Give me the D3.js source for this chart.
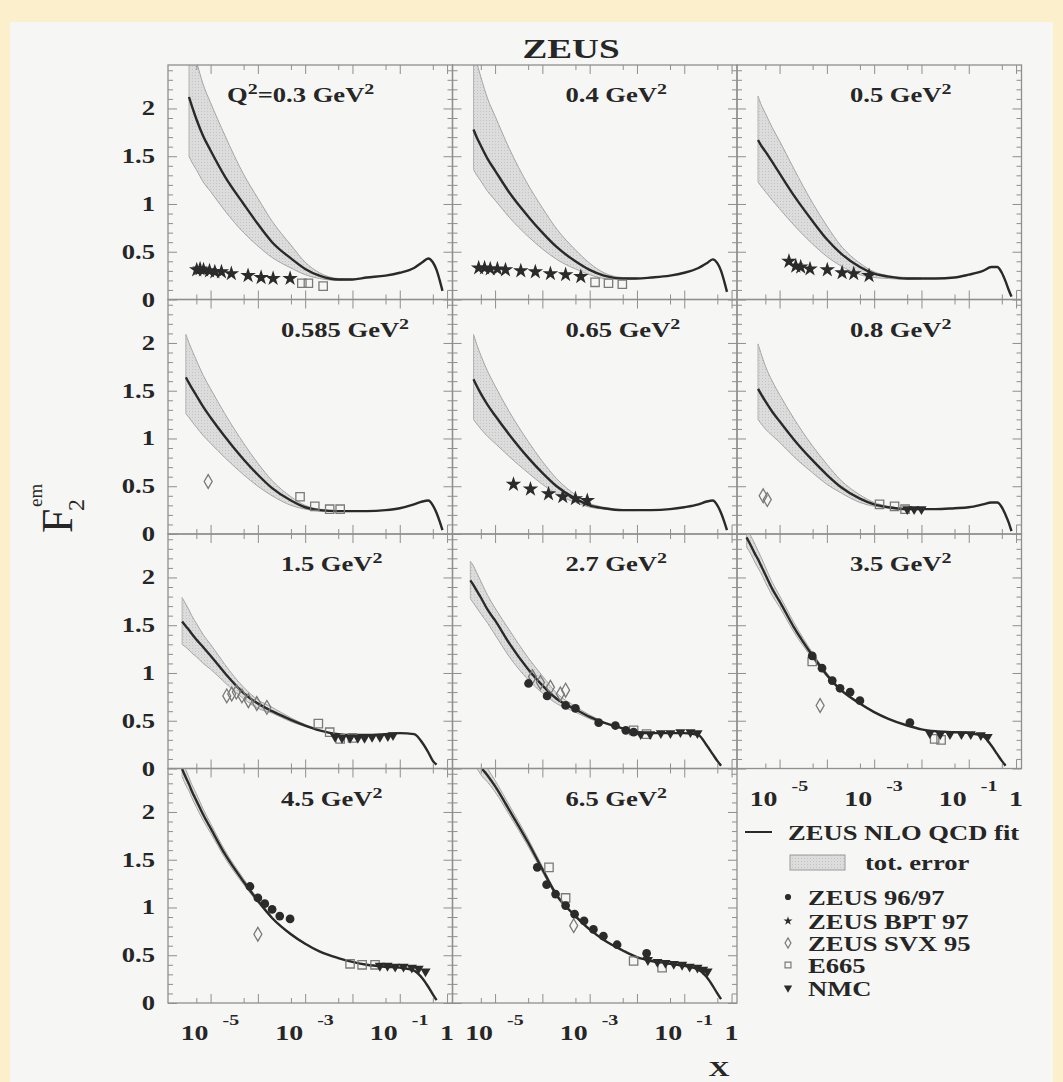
<!DOCTYPE html>
<html><head><meta charset="utf-8">
<script src="https://cdn.jsdelivr.net/npm/d3@7"></script>
<style>html,body{margin:0;padding:0;background:#fcf0cc}svg{display:block}</style>
</head><body>
<svg id="chart" width="1063" height="1082"></svg>
<script>
// ---------------- DATA ----------------
const q2Values = ["0.3","0.4","0.5","0.585","0.65","0.8","1.5","2.7","3.5","4.5","6.5"];
const xMajorTicks = [1e-5,1e-4,1e-3,1e-2,1e-1,1];
const xMinorTicks = [5e-6,5e-5,5e-4,5e-3,5e-2,5e-1];
const xLabelTicks = [1e-5,1e-3,1e-1,1];
const xLabelExps = ["-5","-3","-1",""];
const yTickValues = [0,0.5,1,1.5,2];
const yTickLabels = ["0","0.5","1","1.5","2"];
const legendLabels = ["ZEUS 96/97","ZEUS BPT 97","ZEUS SVX 95","E665","NMC"];

const fitCurves = [
 [[3.5e-6,2.12],[4e-6,2.03],[5e-6,1.89],[7e-6,1.71],[1e-5,1.56],[2e-5,1.29],[5e-5,1.00],[1e-4,0.79],[2e-4,0.60],[5e-4,0.43],[1e-3,0.32],[2e-3,0.25],[5e-3,0.21],[1e-2,0.21],[2e-2,0.23],[5e-2,0.25],[0.1,0.28],[0.2,0.33],[0.3,0.39],[0.4,0.43],[0.5,0.39],[0.6,0.31],[0.7,0.20],[0.8,0.09]],
 [[3.5e-6,1.78],[4e-6,1.71],[5e-6,1.61],[7e-6,1.47],[1e-5,1.35],[2e-5,1.12],[5e-5,0.87],[1e-4,0.70],[2e-4,0.55],[5e-4,0.40],[1e-3,0.31],[2e-3,0.25],[5e-3,0.22],[1e-2,0.22],[2e-2,0.23],[5e-2,0.25],[0.1,0.28],[0.2,0.33],[0.3,0.38],[0.4,0.42],[0.5,0.38],[0.6,0.30],[0.7,0.19],[0.8,0.08]],
 [[3.5e-6,1.67],[4e-6,1.62],[5e-6,1.55],[7e-6,1.44],[1e-5,1.32],[2e-5,1.09],[5e-5,0.82],[1e-4,0.63],[2e-4,0.48],[5e-4,0.34],[1e-3,0.27],[2e-3,0.24],[5e-3,0.22],[1e-2,0.22],[2e-2,0.22],[5e-2,0.23],[0.1,0.26],[0.2,0.30],[0.3,0.34],[0.4,0.34],[0.5,0.28],[0.6,0.19],[0.7,0.10],[0.8,0.03]],
 [[3e-6,1.64],[3.5e-6,1.58],[4e-6,1.53],[5e-6,1.45],[7e-6,1.33],[1e-5,1.22],[2e-5,1.02],[5e-5,0.78],[1e-4,0.62],[2e-4,0.48],[5e-4,0.35],[1e-3,0.28],[2e-3,0.25],[5e-3,0.24],[1e-2,0.24],[2e-2,0.24],[5e-2,0.25],[0.1,0.27],[0.2,0.31],[0.3,0.34],[0.4,0.35],[0.5,0.30],[0.6,0.22],[0.7,0.13],[0.8,0.04]],
 [[3.5e-6,1.62],[4e-6,1.56],[5e-6,1.47],[7e-6,1.35],[1e-5,1.24],[2e-5,1.04],[5e-5,0.80],[1e-4,0.64],[2e-4,0.50],[5e-4,0.37],[1e-3,0.30],[2e-3,0.27],[5e-3,0.25],[1e-2,0.25],[2e-2,0.25],[5e-2,0.26],[0.1,0.28],[0.2,0.31],[0.3,0.34],[0.4,0.35],[0.5,0.30],[0.6,0.22],[0.7,0.13],[0.8,0.04]],
 [[3.5e-6,1.52],[4e-6,1.47],[5e-6,1.39],[7e-6,1.28],[1e-5,1.18],[2e-5,0.99],[5e-5,0.77],[1e-4,0.62],[2e-4,0.49],[5e-4,0.37],[1e-3,0.31],[2e-3,0.28],[5e-3,0.26],[1e-2,0.26],[2e-2,0.26],[5e-2,0.27],[0.1,0.28],[0.2,0.31],[0.3,0.33],[0.4,0.33],[0.5,0.28],[0.6,0.20],[0.7,0.12],[0.8,0.03]],
 [[2.5e-6,1.54],[3e-6,1.49],[3.5e-6,1.45],[4e-6,1.41],[5e-6,1.35],[7e-6,1.27],[1e-5,1.18],[2e-5,1.00],[5e-5,0.79],[1e-4,0.68],[2e-4,0.60],[5e-4,0.51],[1e-3,0.45],[2e-3,0.40],[5e-3,0.36],[1e-2,0.35],[2e-2,0.35],[5e-2,0.36],[0.1,0.37],[0.2,0.36],[0.3,0.27],[0.4,0.17],[0.5,0.08],[0.6,0.04]],
 [[3e-6,1.97],[3.5e-6,1.92],[4e-6,1.87],[5e-6,1.79],[7e-6,1.66],[1e-5,1.55],[2e-5,1.31],[5e-5,1.04],[1e-4,0.87],[2e-4,0.73],[5e-4,0.62],[1e-3,0.54],[2e-3,0.48],[5e-3,0.42],[1e-2,0.38],[2e-2,0.37],[5e-2,0.37],[0.1,0.37],[0.2,0.35],[0.3,0.24],[0.4,0.15],[0.5,0.08],[0.6,0.03]],
 [[2e-6,2.42],[2.5e-6,2.33],[3e-6,2.25],[3.5e-6,2.19],[4e-6,2.13],[5e-6,2.03],[7e-6,1.88],[1e-5,1.75],[2e-5,1.48],[5e-5,1.18],[1e-4,0.98],[2e-4,0.82],[5e-4,0.68],[1e-3,0.59],[2e-3,0.52],[5e-3,0.45],[1e-2,0.41],[2e-2,0.39],[5e-2,0.38],[0.1,0.37],[0.2,0.34],[0.3,0.24],[0.4,0.15],[0.5,0.08],[0.6,0.03]],
 [[2.5e-6,2.45],[3e-6,2.36],[3.5e-6,2.29],[4e-6,2.22],[5e-6,2.12],[7e-6,1.97],[1e-5,1.83],[2e-5,1.56],[5e-5,1.27],[1e-4,1.07],[2e-4,0.89],[5e-4,0.72],[1e-3,0.62],[2e-3,0.54],[5e-3,0.47],[1e-2,0.43],[2e-2,0.40],[5e-2,0.38],[0.1,0.37],[0.2,0.34],[0.3,0.26],[0.4,0.17],[0.5,0.09],[0.6,0.03]],
 [[4e-6,2.55],[5e-6,2.47],[7e-6,2.38],[1e-5,2.27],[2e-5,2.02],[5e-5,1.68],[1e-4,1.40],[2e-4,1.13],[5e-4,0.91],[1e-3,0.77],[2e-3,0.66],[5e-3,0.55],[1e-2,0.48],[2e-2,0.44],[5e-2,0.41],[0.1,0.39],[0.2,0.35],[0.3,0.27],[0.4,0.18],[0.5,0.10],[0.6,0.04]]
];

const bandUpper = [
 [[3.5e-6,2.80],[4e-6,2.68],[5e-6,2.50],[7e-6,2.25],[1e-5,2.06],[2e-5,1.72],[5e-5,1.31],[1e-4,1.06],[2e-4,0.82],[5e-4,0.57],[1e-3,0.39],[2e-3,0.28],[5e-3,0.22],[1e-2,0.215]],
 [[3.5e-6,2.60],[4e-6,2.50],[5e-6,2.33],[7e-6,2.10],[1e-5,1.92],[2e-5,1.58],[5e-5,1.20],[1e-4,0.96],[2e-4,0.74],[5e-4,0.52],[1e-3,0.38],[2e-3,0.28],[5e-3,0.23],[1e-2,0.225]],
 [[3.5e-6,2.13],[4e-6,2.05],[5e-6,1.95],[7e-6,1.80],[1e-5,1.66],[2e-5,1.37],[5e-5,1.01],[1e-4,0.77],[2e-4,0.56],[5e-4,0.38],[1e-3,0.29],[2e-3,0.25],[5e-3,0.23],[1e-2,0.225]],
 [[3e-6,2.09],[3.5e-6,2.00],[4e-6,1.93],[5e-6,1.82],[7e-6,1.66],[1e-5,1.52],[2e-5,1.26],[5e-5,0.95],[1e-4,0.74],[2e-4,0.56],[5e-4,0.39],[1e-3,0.30],[2e-3,0.26],[5e-3,0.245],[1e-2,0.245]],
 [[3.5e-6,2.09],[4e-6,2.00],[5e-6,1.87],[7e-6,1.70],[1e-5,1.55],[2e-5,1.28],[5e-5,0.97],[1e-4,0.76],[2e-4,0.58],[5e-4,0.41],[1e-3,0.32],[2e-3,0.28],[5e-3,0.255],[1e-2,0.255]],
 [[3.5e-6,1.99],[4e-6,1.90],[5e-6,1.76],[7e-6,1.60],[1e-5,1.46],[2e-5,1.21],[5e-5,0.92],[1e-4,0.73],[2e-4,0.56],[5e-4,0.41],[1e-3,0.33],[2e-3,0.29],[5e-3,0.265],[1e-2,0.265]],
 [[2.5e-6,1.79],[3e-6,1.72],[3.5e-6,1.66],[4e-6,1.60],[5e-6,1.52],[7e-6,1.40],[1e-5,1.30],[2e-5,1.09],[5e-5,0.85],[1e-4,0.72],[2e-4,0.64],[5e-4,0.53],[1e-3,0.46],[2e-3,0.405]],
 [[3e-6,2.17],[3.5e-6,2.12],[4e-6,2.06],[5e-6,1.96],[7e-6,1.81],[1e-5,1.68],[2e-5,1.45],[5e-5,1.16],[1e-4,0.97],[2e-4,0.79],[5e-4,0.65],[1e-3,0.56],[2e-3,0.49]],
 [[2e-6,2.52],[2.5e-6,2.43],[3e-6,2.35],[3.5e-6,2.28],[4e-6,2.22],[5e-6,2.11],[7e-6,1.95],[1e-5,1.81],[2e-5,1.53],[5e-5,1.21],[1e-4,1.00],[2e-4,0.83],[5e-4,0.69],[1e-3,0.595]],
 [[2.5e-6,2.53],[3e-6,2.44],[3.5e-6,2.36],[4e-6,2.29],[5e-6,2.19],[7e-6,2.03],[1e-5,1.88],[2e-5,1.60],[5e-5,1.30],[1e-4,1.09],[2e-4,0.90],[5e-4,0.73],[1e-3,0.625]],
 [[4e-6,2.63],[5e-6,2.55],[7e-6,2.45],[1e-5,2.33],[2e-5,2.07],[5e-5,1.72],[1e-4,1.43],[2e-4,1.15],[5e-4,0.92],[1e-3,0.775]]
];
const bandLower = [
 [[3.5e-6,1.50],[4e-6,1.44],[5e-6,1.36],[7e-6,1.23],[1e-5,1.13],[2e-5,0.93],[5e-5,0.70],[1e-4,0.56],[2e-4,0.44],[5e-4,0.33],[1e-3,0.26],[2e-3,0.22],[5e-3,0.20],[1e-2,0.205]],
 [[3.5e-6,1.36],[4e-6,1.31],[5e-6,1.24],[7e-6,1.13],[1e-5,1.04],[2e-5,0.86],[5e-5,0.66],[1e-4,0.53],[2e-4,0.42],[5e-4,0.32],[1e-3,0.26],[2e-3,0.22],[5e-3,0.21],[1e-2,0.215]],
 [[3.5e-6,1.23],[4e-6,1.19],[5e-6,1.13],[7e-6,1.04],[1e-5,0.95],[2e-5,0.78],[5e-5,0.58],[1e-4,0.45],[2e-4,0.35],[5e-4,0.26],[1e-3,0.23],[2e-3,0.22],[5e-3,0.21],[1e-2,0.215]],
 [[3e-6,1.26],[3.5e-6,1.22],[4e-6,1.18],[5e-6,1.12],[7e-6,1.03],[1e-5,0.95],[2e-5,0.80],[5e-5,0.62],[1e-4,0.50],[2e-4,0.40],[5e-4,0.30],[1e-3,0.26],[2e-3,0.24],[5e-3,0.235],[1e-2,0.235]],
 [[3.5e-6,1.20],[4e-6,1.16],[5e-6,1.10],[7e-6,1.02],[1e-5,0.95],[2e-5,0.81],[5e-5,0.64],[1e-4,0.52],[2e-4,0.42],[5e-4,0.33],[1e-3,0.28],[2e-3,0.26],[5e-3,0.245],[1e-2,0.245]],
 [[3.5e-6,1.20],[4e-6,1.16],[5e-6,1.10],[7e-6,1.03],[1e-5,0.96],[2e-5,0.81],[5e-5,0.64],[1e-4,0.52],[2e-4,0.43],[5e-4,0.33],[1e-3,0.29],[2e-3,0.27],[5e-3,0.255],[1e-2,0.255]],
 [[2.5e-6,1.30],[3e-6,1.27],[3.5e-6,1.24],[4e-6,1.21],[5e-6,1.17],[7e-6,1.10],[1e-5,1.04],[2e-5,0.90],[5e-5,0.73],[1e-4,0.63],[2e-4,0.58],[5e-4,0.49],[1e-3,0.44],[2e-3,0.395]],
 [[3e-6,1.78],[3.5e-6,1.73],[4e-6,1.69],[5e-6,1.62],[7e-6,1.52],[1e-5,1.40],[2e-5,1.17],[5e-5,0.93],[1e-4,0.79],[2e-4,0.68],[5e-4,0.59],[1e-3,0.52],[2e-3,0.47]],
 [[2e-6,2.32],[2.5e-6,2.24],[3e-6,2.16],[3.5e-6,2.10],[4e-6,2.05],[5e-6,1.95],[7e-6,1.81],[1e-5,1.69],[2e-5,1.43],[5e-5,1.15],[1e-4,0.96],[2e-4,0.81],[5e-4,0.67],[1e-3,0.585]],
 [[2.5e-6,2.37],[3e-6,2.28],[3.5e-6,2.22],[4e-6,2.15],[5e-6,2.05],[7e-6,1.91],[1e-5,1.78],[2e-5,1.52],[5e-5,1.24],[1e-4,1.05],[2e-4,0.88],[5e-4,0.71],[1e-3,0.615]],
 [[4e-6,2.47],[5e-6,2.39],[7e-6,2.31],[1e-5,2.21],[2e-5,1.97],[5e-5,1.64],[1e-4,1.37],[2e-4,1.11],[5e-4,0.90],[1e-3,0.765]]
];

// data points per panel: [x, F2]
const zeus9697 = [[],[],[],[],[],[],[],
 [[5.1e-5,0.89],[1.26e-4,0.76],[3.1e-4,0.66],[5e-4,0.63],[1.55e-3,0.48],[3.5e-3,0.45],[5.8e-3,0.40],[8.5e-3,0.38]],
 [[4.9e-5,1.18],[7.9e-5,1.05],[1.3e-4,0.92],[1.9e-4,0.84],[3.1e-4,0.80],[5e-4,0.71],[5.7e-3,0.48]],
 [[6.8e-5,1.22],[1e-4,1.10],[1.4e-4,1.04],[2e-4,0.98],[2.9e-4,0.91],[4.8e-4,0.88]],
 [[7.8e-5,1.42],[1.23e-4,1.24],[1.9e-4,1.14],[3.1e-4,1.02],[4.8e-4,0.93],[7.6e-4,0.86],[1.2e-3,0.77],[1.95e-3,0.70],[3.8e-3,0.61],[1.6e-2,0.52]]
];
const bpt97 = [
 [[5.1e-6,0.31],[6e-6,0.32],[7.1e-6,0.31],[9.5e-6,0.30],[1.23e-5,0.29],[1.7e-5,0.29],[2.75e-5,0.27],[6.2e-5,0.25],[1.17e-4,0.23],[2.1e-4,0.22],[4.8e-4,0.22]],
 [[4.5e-6,0.33],[6e-6,0.33],[7.9e-6,0.32],[1.12e-5,0.32],[1.66e-5,0.31],[3.5e-5,0.30],[7.1e-5,0.29],[1.48e-4,0.27],[3.1e-4,0.26],[6.5e-4,0.24]],
 [[1.58e-5,0.40],[2.2e-5,0.35],[2.8e-5,0.34],[4.4e-5,0.32],[1.02e-4,0.31],[2.1e-4,0.28],[3.7e-4,0.27],[7.8e-4,0.25]],
 [],
 [[2.45e-5,0.52],[5.6e-5,0.47],[1.35e-4,0.42],[2.7e-4,0.39],[5e-4,0.37],[8.9e-4,0.35]],
 [],[],[],[],[],[]
];
const svx95 = [[],[],[],
 [[8.9e-6,0.55]],
 [],
 [[4.5e-6,0.40],[5.5e-6,0.36]],
 [[2.2e-5,0.76],[2.8e-5,0.78],[3.5e-5,0.80],[4.6e-5,0.76],[6.3e-5,0.71],[9.5e-5,0.68],[1.55e-4,0.64]],
 [[6.2e-5,0.96],[9.1e-5,0.90],[1.48e-4,0.85],[2.4e-4,0.78],[3.1e-4,0.82]],
 [[7.2e-5,0.66]],
 [[1e-4,0.72]],
 [[4.6e-4,0.81]]
];
const e665 = [
 [[8.5e-4,0.17],[1.17e-3,0.17],[2.4e-3,0.14]],
 [[1.3e-3,0.18],[2.5e-3,0.17],[4.9e-3,0.16]],
 [],
 [[7.8e-4,0.39],[1.6e-3,0.29],[3.3e-3,0.26],[5.5e-3,0.26]],
 [],
 [[1.3e-3,0.31],[2.7e-3,0.29],[4.5e-3,0.26]],
 [[1.9e-3,0.47],[3.3e-3,0.38],[5.5e-3,0.31],[1e-2,0.32]],
 [[8.5e-3,0.40],[1.6e-2,0.36]],
 [[4.9e-5,1.12],[1.9e-2,0.31],[2.6e-2,0.30]],
 [[8.9e-3,0.41],[1.6e-2,0.40],[3e-2,0.40]],
 [[1.38e-4,1.42],[3.1e-4,1.10],[8.5e-3,0.44],[3.4e-2,0.37]]
];
const nmc = [[],[],[],[],[],
 [[5e-3,0.26],[7e-3,0.26],[1e-2,0.26]],
 [[4.3e-3,0.33],[6e-3,0.32],[8.9e-3,0.32],[1.3e-2,0.32],[1.8e-2,0.32],[2.6e-2,0.33],[3.8e-2,0.33],[5.6e-2,0.34],[7.2e-2,0.35]],
 [[1.2e-2,0.36],[1.9e-2,0.36],[3.2e-2,0.37],[5.1e-2,0.37],[8.3e-2,0.38],[0.135,0.38],[0.19,0.37]],
 [[1.5e-2,0.37],[2.5e-2,0.36],[4e-2,0.36],[7e-2,0.36],[0.11,0.36],[0.18,0.35],[0.25,0.33]],
 [[3.8e-2,0.39],[5.5e-2,0.39],[8e-2,0.38],[0.12,0.38],[0.18,0.37],[0.25,0.36],[0.35,0.33]],
 [[1.7e-2,0.45],[2.7e-2,0.43],[4e-2,0.42],[6e-2,0.41],[9e-2,0.40],[0.13,0.38],[0.19,0.37],[0.25,0.35],[0.31,0.33]]
];

// ---------------- LAYOUT / STYLE ----------------
const W = 1063, H = 1082;
const colLeft = [168, 452.5, 737];
const rowTop = [65, 299.5, 534, 768.5];
const PW = 284.5, PH = 234.5;
const SX = 1.33;
const FONT = "'Liberation Serif','Times New Roman',Times,serif";
const INK = "#262626", FRAME = "#8f8f8f";

const svg = d3.select("#chart");
svg.append("rect").attr("width",W).attr("height",H).attr("fill","#fcf0cc");
svg.append("rect").attr("x",10).attr("y",22).attr("width",1043).attr("height",1060).attr("fill","#f6f6f4");

function stext(parent, x, y, anchor, size, weight){
  return parent.append("text")
    .attr("transform",`translate(${x},${y}) scale(${SX},1)`)
    .attr("text-anchor",anchor)
    .style("font-family",FONT).style("font-size",size+"px")
    .style("font-weight",weight||"bold").attr("fill",INK);
}

const defs = svg.append("defs");
// dotted texture for the error band
const pat = defs.append("pattern").attr("id","bandpat").attr("width",3).attr("height",3).attr("patternUnits","userSpaceOnUse");
pat.append("rect").attr("width",3).attr("height",3).attr("fill","#dcdcdc");
pat.append("rect").attr("width",1).attr("height",1).attr("fill","#c4c4c4");

const symStar = d3.symbol().type(d3.symbolStar).size(75);
const symCircle = d3.symbol().type(d3.symbolCircle).size(60);
const symDiamond = d3.symbol().type(d3.symbolDiamond).size(55);
const symSquare = d3.symbol().type(d3.symbolSquare).size(70);
const symTri = d3.symbol().type(d3.symbolTriangle).size(45);

function drawMarkers(g, data, x, y, kind){
  const sel = g.selectAll(null).data(data).enter().append("path");
  if(kind==="circle") sel.attr("d",symCircle).attr("fill","#2b2b2b");
  if(kind==="star") sel.attr("d",symStar).attr("fill","#2b2b2b");
  if(kind==="diamond") sel.attr("d",symDiamond).attr("fill","none").attr("stroke","#7a7a7a").attr("stroke-width",1.3);
  if(kind==="square") sel.attr("d",symSquare).attr("fill","none").attr("stroke","#7a7a7a").attr("stroke-width",1.3);
  if(kind==="tri") sel.attr("d",symTri).attr("fill","#2b2b2b");
  sel.attr("transform",d=>`translate(${x(d[0])},${y(d[1])})${kind==="tri"?" rotate(180)":""}`);
}

const yMinorTicks = d3.range(1,25).map(v=>v/10).filter(v=>Math.abs(v*2-Math.round(v*2))>1e-6);

for(let i=0;i<11;i++){
  const col=i%3, row=Math.floor(i/3);
  const L=colLeft[col], T=rowTop[row], R=L+PW, B=T+PH;
  const x=d3.scaleLog().domain([Math.pow(10,-5.9),Math.pow(10,0.115)]).range([L,R]);
  const y=d3.scaleLinear().domain([0,2.455]).range([B,T]);
  const g=svg.append("g");
  const cid="clip"+i;
  defs.append("clipPath").attr("id",cid).append("rect").attr("x",L).attr("y",T).attr("width",PW).attr("height",PH);
  const pg=g.append("g").attr("clip-path",`url(#${cid})`);

  // band
  const band=bandUpper[i].map((d,k)=>[d[0],bandLower[i][k][1],d[1]]);
  pg.append("path").datum(band)
    .attr("d",d3.area().x(d=>x(d[0])).y0(d=>y(d[1])).y1(d=>y(d[2])).curve(d3.curveMonotoneX))
    .attr("fill","url(#bandpat)").attr("stroke","none");
  [bandUpper[i],bandLower[i]].forEach(e=>{
    pg.append("path").datum(e).attr("d",d3.line().x(d=>x(d[0])).y(d=>y(d[1])).curve(d3.curveMonotoneX))
      .attr("fill","none").attr("stroke","#a5a5a5").attr("stroke-width",1);
  });
  pg.append("line").attr("x1",x(band[0][0])).attr("x2",x(band[0][0]))
    .attr("y1",y(band[0][1])).attr("y2",y(band[0][2])).attr("stroke","#b5b5b5").attr("stroke-width",1);

  // fit
  pg.append("path").datum(fitCurves[i])
    .attr("d",d3.line().x(d=>x(d[0])).y(d=>y(d[1])).curve(d3.curveMonotoneX))
    .attr("fill","none").attr("stroke","#2a2a2a").attr("stroke-width",2.4);

  // markers
  drawMarkers(pg,e665[i],x,y,"square");
  drawMarkers(pg,svx95[i],x,y,"diamond");
  drawMarkers(pg,nmc[i],x,y,"tri");
  drawMarkers(pg,bpt97[i],x,y,"star");
  drawMarkers(pg,zeus9697[i],x,y,"circle");

  // frame + ticks
  g.append("rect").attr("x",L).attr("y",T).attr("width",PW).attr("height",PH)
    .attr("fill","none").attr("stroke",FRAME).attr("stroke-width",1.3);
  const axes=[
    [d3.axisBottom(x).tickValues(xMajorTicks).tickSize(-9),`translate(0,${B})`],
    [d3.axisBottom(x).tickValues(xMinorTicks).tickSize(-5),`translate(0,${B})`],
    [d3.axisTop(x).tickValues(xMajorTicks).tickSize(-9),`translate(0,${T})`],
    [d3.axisTop(x).tickValues(xMinorTicks).tickSize(-5),`translate(0,${T})`],
    [d3.axisLeft(y).tickValues(yTickValues).tickSize(-9),`translate(${L},0)`],
    [d3.axisLeft(y).tickValues(yMinorTicks).tickSize(-5),`translate(${L},0)`],
    [d3.axisRight(y).tickValues(yTickValues).tickSize(-9),`translate(${R},0)`],
    [d3.axisRight(y).tickValues(yMinorTicks).tickSize(-5),`translate(${R},0)`]
  ];
  axes.forEach(([ax,tr])=>{
    const a=g.append("g").attr("transform",tr).call(ax.tickFormat(""));
    a.select(".domain").remove();
    a.selectAll("line").attr("stroke",FRAME).attr("stroke-width",1);
  });

  // y tick labels
  if(col===0){
    yTickValues.forEach((v,k)=>{
      stext(g,L-13,y(v)+7,"end",20).text(yTickLabels[k]);
    });
  }
  // x tick labels
  if(i>=8){
    xLabelTicks.forEach((v,k)=>{
      const px=x(v), by=B+37;
      if(xLabelExps[k]===""){
        stext(g,px,by,"middle",21).text("1");
      } else {
        stext(g,px-2,by,"end",21).text("10");
        stext(g,px+12,by-15,"start",15).text(xLabelExps[k]);
      }
    });
  }
  // panel label
  const lt = (i===0) ? stext(g,L+59,T+37,"start",20) : stext(g,L+113,T+37,"start",20);
  if(i===0){
    lt.append("tspan").text("Q");
    lt.append("tspan").attr("dy",-8).style("font-size","15px").text("2");
    lt.append("tspan").attr("dy",8).text("="+q2Values[i]+" GeV");
  } else {
    lt.append("tspan").text(q2Values[i]+" GeV");
  }
  lt.append("tspan").attr("dy",-8).style("font-size","15px").text("2");
}

// title
stext(svg,571,58,"middle",28).text("ZEUS");
// x label
stext(svg,719,1076,"middle",22).text("X");
// y label
const yl=svg.append("g").attr("transform","translate(72,533) rotate(-90)");
yl.append("text").attr("x",0).attr("y",0).style("font-family",FONT).style("font-size","44px").attr("fill",INK).text("F");
yl.append("text").attr("x",22).attr("y",12).style("font-family",FONT).style("font-size","24px").attr("fill",INK).text("2");
yl.append("text").attr("x",26).attr("y",-30).style("font-family",FONT).style("font-size","19px").attr("fill",INK).text("em");

// legend
const lg=svg.append("g");
lg.append("line").attr("x1",745).attr("x2",772).attr("y1",832).attr("y2",832).attr("stroke","#2a2a2a").attr("stroke-width",2);
stext(lg,788,840,"start",20).text("ZEUS NLO QCD fit");
lg.append("rect").attr("x",790).attr("y",855).attr("width",55).attr("height",15).attr("fill","url(#bandpat)").attr("stroke","#9a9a9a");
stext(lg,865,870,"start",20).text("tot. error");
const legSyms=[
  d3.symbol().type(d3.symbolCircle).size(30),
  d3.symbol().type(d3.symbolStar).size(25),
  d3.symbol().type(d3.symbolDiamond).size(30),
  d3.symbol().type(d3.symbolSquare).size(35),
  d3.symbol().type(d3.symbolTriangle).size(30)
];
const legY=[897,921,943,965,988];
legendLabels.forEach((lab,k)=>{
  const p=lg.append("path").attr("d",legSyms[k]).attr("transform",`translate(788,${legY[k]})${k===4?" rotate(180)":""}`);
  if(k===2||k===3) p.attr("fill","none").attr("stroke","#7a7a7a").attr("stroke-width",1.2);
  else p.attr("fill","#2b2b2b");
  stext(lg,808,legY[k]+8,"start",20).text(lab);
});
</script>
</body></html>
